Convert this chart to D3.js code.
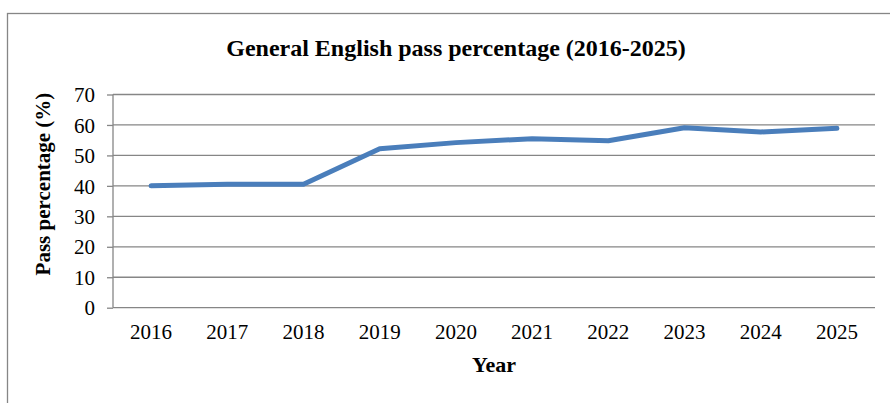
<!DOCTYPE html>
<html>
<head>
<meta charset="utf-8">
<script src="https://cdn.jsdelivr.net/npm/d3@7"></script>
<style>
	body { margin: 0; background: #fff; }
	svg text { font-family: "Liberation Serif", "Times New Roman", serif; fill: #000; }
</style>
</head>
<body>
<div class="chart"></div>
<script>
// DATA
var years = ["2016", "2017", "2018", "2019", "2020", "2021", "2022", "2023", "2024", "2025"];
var passPct = [40, 40.5, 40.5, 52.2, 54.2, 55.5, 54.8, 59.1, 57.7, 58.9];
var yTicks = [0, 10, 20, 30, 40, 50, 60, 70];

var width = 890, height = 403;
var plot = { left: 113, right: 875, top: 94.5, bottom: 307.7 };

var svg = d3.select(".chart")
	.append("svg")
	.attr("width", width)
	.attr("height", height);

// outer frame (cut off on the right and bottom, as in the source)
svg.append("rect")
	.attr("x", 7.5)
	.attr("y", 13.5)
	.attr("width", 900)
	.attr("height", 420)
	.attr("fill", "none")
	.attr("stroke", "#868686")
	.attr("stroke-width", 1.3);

var x = d3.scaleBand()
	.domain(years)
	.range([plot.left, plot.right]);

var y = d3.scaleLinear()
	.domain([0, 70])
	.range([plot.bottom, plot.top]);

// gridlines + y axis
var yAxis = svg.append("g")
	.attr("transform", "translate(" + plot.left + ",0)")
	.call(d3.axisLeft(y).tickValues(yTicks).tickSize(6).tickPadding(12).tickFormat(d3.format("d")));
yAxis.select(".domain").remove();
yAxis.selectAll(".tick line").attr("stroke", "#868686").attr("stroke-width", 1.3);
yAxis.selectAll(".tick text").attr("font-size", 21).attr("dy", "0.34em");

svg.append("g")
	.selectAll("line")
	.data(yTicks)
	.enter().append("line")
		.attr("x1", plot.left)
		.attr("x2", plot.right)
		.attr("y1", function(d) { return y(d); })
		.attr("y2", function(d) { return y(d); })
		.attr("stroke", "#868686")
		.attr("stroke-width", 1.3);

svg.append("line")
	.attr("x1", plot.left)
	.attr("x2", plot.left)
	.attr("y1", plot.top)
	.attr("y2", plot.bottom)
	.attr("stroke", "#868686")
	.attr("stroke-width", 1.3);

// x axis labels
var xAxis = svg.append("g")
	.attr("transform", "translate(0," + plot.bottom + ")")
	.call(d3.axisBottom(x).tickSize(0).tickPadding(16));
xAxis.select(".domain").remove();
xAxis.selectAll(".tick text").attr("font-size", 21);

// line
var line = d3.line()
	.x(function(d, i) { return x(years[i]) + x.bandwidth() / 2; })
	.y(function(d) { return y(d); });

svg.append("path")
	.datum(passPct)
	.attr("d", line)
	.attr("fill", "none")
	.attr("stroke", "#4a7ebb")
	.attr("stroke-width", 5)
	.attr("stroke-linejoin", "round")
	.attr("stroke-linecap", "round");

// titles
svg.append("text")
	.attr("x", 456)
	.attr("y", 56)
	.attr("text-anchor", "middle")
	.attr("font-size", 24)
	.attr("font-weight", "bold")
	.text("General English pass percentage (2016-2025)");

svg.append("text")
	.attr("transform", "translate(50,184) rotate(-90)")
	.attr("text-anchor", "middle")
	.attr("font-size", 21)
	.attr("font-weight", "bold")
	.text("Pass percentage (%)");

svg.append("text")
	.attr("x", 494)
	.attr("y", 372)
	.attr("text-anchor", "middle")
	.attr("font-size", 22)
	.attr("font-weight", "bold")
	.text("Year");
</script>
</body>
</html>
